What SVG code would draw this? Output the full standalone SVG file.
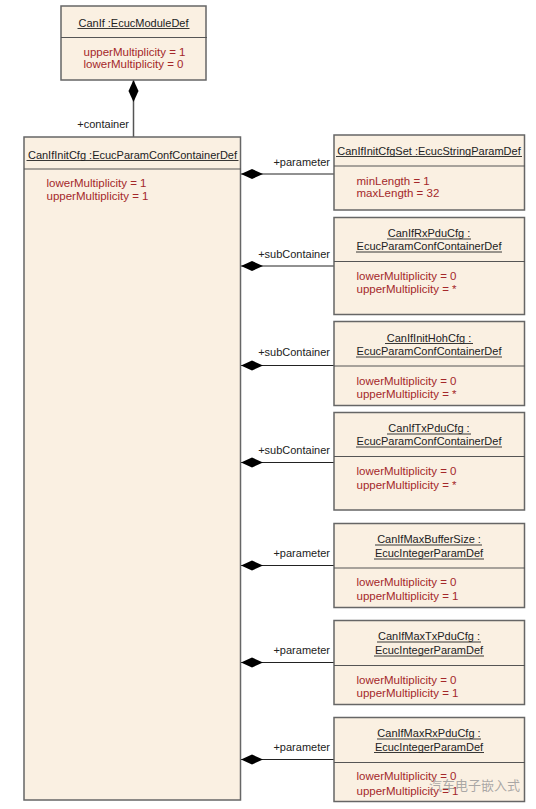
<svg xmlns="http://www.w3.org/2000/svg" width="536" height="809" viewBox="0 0 536 809">
<style>
.box{fill:#FAF0E2;stroke:#666;stroke-width:1.5}
.sep{stroke:#555;stroke-width:1.2}
.t{font-family:"Liberation Sans",Arial,sans-serif;font-size:11px;fill:#222;text-anchor:middle}
.ul{stroke:#222;stroke-width:0.9}
.a{font-family:"Liberation Sans",Arial,sans-serif;font-size:11.5px;fill:#A4282A}
.lbl{font-family:"Liberation Sans",Arial,sans-serif;font-size:11px;fill:#222;text-anchor:end}
.con{stroke:#222;stroke-width:1;fill:none}
.dia{fill:#000}
</style>
<rect width="536" height="809" fill="#fff"/>

<g id="connectors">
  <line x1="133.5" y1="80" x2="133.5" y2="137" style="stroke:#555;stroke-width:1.5"/>
  <polygon class="dia" points="133.5,80 138.5,91 133.5,102 128.5,91"/>
  <text class="lbl" x="129" y="128">+container</text>

  <line class="con" x1="241" y1="174" x2="334" y2="174"/>
  <polygon class="dia" points="241,174 252,169 263,174 252,179"/>
  <text class="lbl" x="330" y="165.5">+parameter</text>

  <line class="con" x1="241" y1="266" x2="334" y2="266"/>
  <polygon class="dia" points="241,266 252,261 263,266 252,271"/>
  <text class="lbl" x="330" y="257.5">+subContainer</text>

  <line class="con" x1="241" y1="365.5" x2="334" y2="365.5"/>
  <polygon class="dia" points="241,365.5 252,360.5 263,365.5 252,370.5"/>
  <text class="lbl" x="330" y="356">+subContainer</text>

  <line class="con" x1="241" y1="462.5" x2="334" y2="462.5"/>
  <polygon class="dia" points="241,462.5 252,457.5 263,462.5 252,467.5"/>
  <text class="lbl" x="330" y="453.5">+subContainer</text>

  <line class="con" x1="241" y1="565.5" x2="334" y2="565.5"/>
  <polygon class="dia" points="241,565.5 252,560.5 263,565.5 252,570.5"/>
  <text class="lbl" x="330" y="557">+parameter</text>

  <line class="con" x1="241" y1="662.5" x2="334" y2="662.5"/>
  <polygon class="dia" points="241,662.5 252,657.5 263,662.5 252,667.5"/>
  <text class="lbl" x="330" y="654">+parameter</text>

  <line class="con" x1="241" y1="759.5" x2="334" y2="759.5"/>
  <polygon class="dia" points="241,759.5 252,754.5 263,759.5 252,764.5"/>
  <text class="lbl" x="330" y="751">+parameter</text>
</g>

<g id="CanIf">
  <rect class="box" x="61" y="6" width="145" height="74"/>
  <line class="sep" x1="61" y1="37.5" x2="207" y2="37.5"/>
  <text class="t" x="133.5" y="26.5">CanIf :EcucModuleDef</text>
  <line class="ul" x1="77.5" y1="28.5" x2="189.5" y2="28.5"/>
  <text class="a" x="83.5" y="55.5">upperMultiplicity = 1</text>
  <text class="a" x="83.5" y="68">lowerMultiplicity = 0</text>
</g>

<g id="CanIfInitCfg">
  <rect class="box" x="24" y="137" width="216.5" height="663"/>
  <line class="sep" x1="24" y1="169" x2="241" y2="169"/>
  <text class="t" x="132.5" y="158.5">CanIfInitCfg :EcucParamConfContainerDef</text>
  <line class="ul" x1="26.5" y1="160.5" x2="238.5" y2="160.5"/>
  <text class="a" x="46.5" y="187">lowerMultiplicity = 1</text>
  <text class="a" x="46.5" y="200">upperMultiplicity = 1</text>
</g>

<g id="CanIfInitCfgSet">
  <rect class="box" x="334" y="135" width="190.5" height="75"/>
  <line class="sep" x1="334" y1="166" x2="525" y2="166"/>
  <text class="t" x="429" y="154.5">CanIfInitCfgSet :EcucStringParamDef</text>
  <line class="ul" x1="336" y1="156.5" x2="522" y2="156.5"/>
  <text class="a" x="356.5" y="184.5">minLength = 1</text>
  <text class="a" x="356.5" y="197">maxLength = 32</text>
</g>

<g id="CanIfRxPduCfg">
  <rect class="box" x="334" y="217.5" width="190.5" height="97"/>
  <line class="sep" x1="334" y1="261.5" x2="525" y2="261.5"/>
  <text class="t" x="429" y="237">CanIfRxPduCfg :</text>
  <line class="ul" x1="387" y1="239" x2="471" y2="239"/>
  <text class="t" x="429" y="250">EcucParamConfContainerDef</text>
  <line class="ul" x1="356" y1="252" x2="502" y2="252"/>
  <text class="a" x="356.5" y="279.5">lowerMultiplicity = 0</text>
  <text class="a" x="356.5" y="293">upperMultiplicity = *</text>
</g>

<g id="CanIfInitHohCfg">
  <rect class="box" x="334" y="321.5" width="190.5" height="84"/>
  <line class="sep" x1="334" y1="366" x2="525" y2="366"/>
  <text class="t" x="429" y="341.5">CanIfInitHohCfg :</text>
  <line class="ul" x1="385" y1="343.5" x2="473" y2="343.5"/>
  <text class="t" x="429" y="355">EcucParamConfContainerDef</text>
  <line class="ul" x1="356" y1="357" x2="502" y2="357"/>
  <text class="a" x="356.5" y="384.5">lowerMultiplicity = 0</text>
  <text class="a" x="356.5" y="397.5">upperMultiplicity = *</text>
</g>

<g id="CanIfTxPduCfg">
  <rect class="box" x="334" y="412.5" width="190.5" height="97.5"/>
  <line class="sep" x1="334" y1="456.5" x2="525" y2="456.5"/>
  <text class="t" x="429" y="432">CanIfTxPduCfg :</text>
  <line class="ul" x1="387" y1="434" x2="471" y2="434"/>
  <text class="t" x="429" y="445">EcucParamConfContainerDef</text>
  <line class="ul" x1="356" y1="447" x2="502" y2="447"/>
  <text class="a" x="356.5" y="475">lowerMultiplicity = 0</text>
  <text class="a" x="356.5" y="489">upperMultiplicity = *</text>
</g>

<g id="CanIfMaxBufferSize">
  <rect class="box" x="334" y="523.5" width="190.5" height="84"/>
  <line class="sep" x1="334" y1="568" x2="525" y2="568"/>
  <text class="t" x="429" y="543">CanIfMaxBufferSize :</text>
  <line class="ul" x1="375" y1="545" x2="482" y2="545"/>
  <text class="t" x="429" y="557">EcucIntegerParamDef</text>
  <line class="ul" x1="374" y1="559" x2="484" y2="559"/>
  <text class="a" x="356.5" y="585.5">lowerMultiplicity = 0</text>
  <text class="a" x="356.5" y="599.5">upperMultiplicity = 1</text>
</g>

<g id="CanIfMaxTxPduCfg">
  <rect class="box" x="334" y="620.5" width="190.5" height="84"/>
  <line class="sep" x1="334" y1="665.5" x2="525" y2="665.5"/>
  <text class="t" x="429" y="640">CanIfMaxTxPduCfg :</text>
  <line class="ul" x1="377" y1="642" x2="481" y2="642"/>
  <text class="t" x="429" y="654">EcucIntegerParamDef</text>
  <line class="ul" x1="374" y1="656" x2="484" y2="656"/>
  <text class="a" x="356.5" y="684">lowerMultiplicity = 0</text>
  <text class="a" x="356.5" y="696.5">upperMultiplicity = 1</text>
</g>

<g id="CanIfMaxRxPduCfg">
  <rect class="box" x="334" y="717.5" width="190.5" height="84"/>
  <line class="sep" x1="334" y1="762.5" x2="525" y2="762.5"/>
  <text class="t" x="429" y="737">CanIfMaxRxPduCfg :</text>
  <line class="ul" x1="377" y1="739" x2="481" y2="739"/>
  <text class="t" x="429" y="750.5">EcucIntegerParamDef</text>
  <line class="ul" x1="374" y1="752.5" x2="484" y2="752.5"/>
  <text class="a" x="356.5" y="780">lowerMultiplicity = 0</text>
  <text class="a" x="356.5" y="794.5">upperMultiplicity = 1</text>
</g>

<text x="429" y="790" font-family="'Noto Sans CJK SC',sans-serif" font-size="13" fill="#9a9a9a" fill-opacity="0.85">汽车电子嵌入式</text>
</svg>
